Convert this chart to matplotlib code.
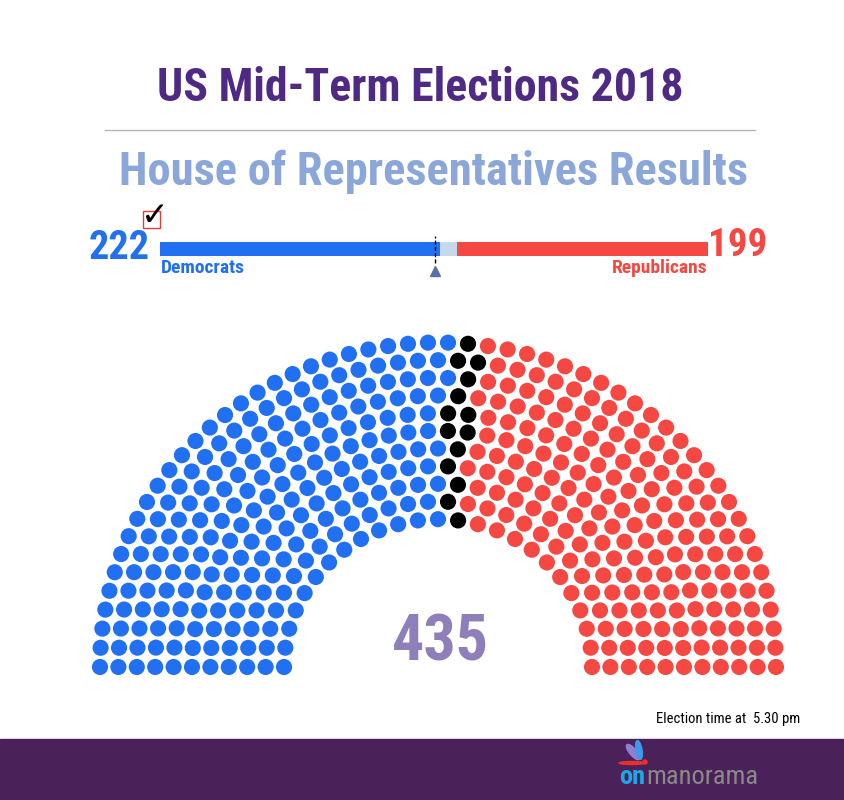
import numpy as np
import matplotlib
matplotlib.use('Agg')
import matplotlib.pyplot as plt
from matplotlib import font_manager
from matplotlib.patches import Rectangle, Ellipse

# данные
parties = ['Democrats', 'Undecided', 'Republicans']
seats = [222, 14, 199]
total_seats = 435
majority = 218
colors = ['#2270f2', '#000000', '#f64842']

title = 'US Mid-Term Elections 2018'
subtitle = 'House of Representatives Results'
note = 'Election time at  5.30 pm'

# узкий шрифт, если есть
installed = {f.name for f in font_manager.fontManager.ttflist}
cond = next((f for f in ['Roboto Condensed', 'Liberation Sans Narrow', 'DejaVu Sans Condensed']
             if f in installed), 'DejaVu Sans')

fig = plt.figure(figsize=(8.45, 8), dpi=100)
ax = fig.add_axes([0, 0, 1, 1])
ax.set_xlim(0, 845)
ax.set_ylim(800, 0)
ax.axis('off')

# заголовки
ax.text(420, 88, title, ha='center', va='center', fontsize=33, fontweight='bold',
        family=cond, color='#4f2a85')
ax.plot([105, 755], [130, 130], color='#b5b5b5', lw=1)
ax.text(434, 172, subtitle, ha='center', va='center', fontsize=33.5, fontweight='bold',
        family=cond, color='#8ba6d8')

# полоса с результатами
bx = fig.add_axes([160 / 845, (800 - 256) / 800, 548 / 845, 14 / 800])
bx.set_xlim(0, total_seats)
bx.set_ylim(0, 1)
bx.axis('off')
left = 0
bar_colors = ['#2270f2', '#c4d8ee', '#f64842']
for s, c in zip(seats, bar_colors):
    bx.barh(0.5, s, left=left, height=1, color=c)
    left += s
bx.plot([majority, majority], [-0.5, 1.4], color='black', lw=1, ls=(0, (3, 1.5)), clip_on=False)
bx.plot([majority], [-1.1], marker='^', ms=7, color='#5b6fa6', clip_on=False)

ax.text(150, 248, str(seats[0]), ha='right', va='center', fontsize=29, fontweight='bold',
        family=cond, color=colors[0])
ax.text(708, 245, str(seats[2]), ha='left', va='center', fontsize=28, fontweight='bold',
        family=cond, color=colors[2])
ax.text(161, 268, parties[0], ha='left', va='center', fontsize=14, fontweight='bold',
        family=cond, color=colors[0])
ax.text(708, 268, parties[2], ha='right', va='center', fontsize=14, fontweight='bold',
        family=cond, color=colors[2])
ax.add_patch(Rectangle((143, 211), 17, 17, fill=False, ec='#e23b3b', lw=1))
ax.text(155, 216, '\u2713', ha='center', va='center', fontsize=24, color='black',
        family=['DejaVu Sans'])

# полукруг мест
n_rows = 11
cx, cy = 438, 667
r_in, r_out = 154, 338
radii = np.linspace(r_in, r_out, n_rows)
share = total_seats * radii / radii.sum()
counts = np.floor(share).astype(int)
for i in np.argsort(-(share - counts))[:total_seats - counts.sum()]:
    counts[i] += 1

angs, rs = [], []
for r, n in zip(radii, counts):
    angs.extend(np.linspace(np.pi, 0, n))
    rs.extend([r] * n)
angs = np.array(angs)
rs = np.array(rs)
order = np.lexsort((rs, -angs))
party_of = np.empty(total_seats, dtype=int)
party_of[order] = np.repeat(np.arange(len(seats)), seats)

px = cx + rs * np.cos(angs)
py = cy - 0.96 * rs * np.sin(angs)
ax.scatter(px, py, s=135, c=[colors[p] for p in party_of], linewidths=0)

ax.text(440, 643, str(total_seats), ha='center', va='center', fontsize=46, fontweight='bold',
        family=cond, color='#8e7fba')

ax.text(800, 719, note, ha='right', va='center', fontsize=10.5, family=cond, color='black')

# нижняя плашка с логотипом
ax.add_patch(Rectangle((0, 739), 845, 61, color='#4b2159', zorder=0))
ax.add_patch(Ellipse((633, 752), 7, 19, angle=-40, color='#8d80d4', zorder=2))
ax.add_patch(Ellipse((639, 750), 6, 19, angle=-10, color='#3b9be6', zorder=2))
ax.add_patch(Ellipse((632, 763), 26, 3, color='#e8302c', zorder=3))
ax.add_patch(Ellipse((645, 762), 4, 4, color='#e8302c', zorder=3))
ax.text(645, 777, 'on', ha='right', va='center', fontsize=19, fontweight='bold',
        family=cond, color='#1ea6e6')
ax.text(646, 777, 'manorama', ha='left', va='center', fontsize=19,
        family=cond, color='#8a8a8a')

fig.savefig('out.png', dpi=100)
